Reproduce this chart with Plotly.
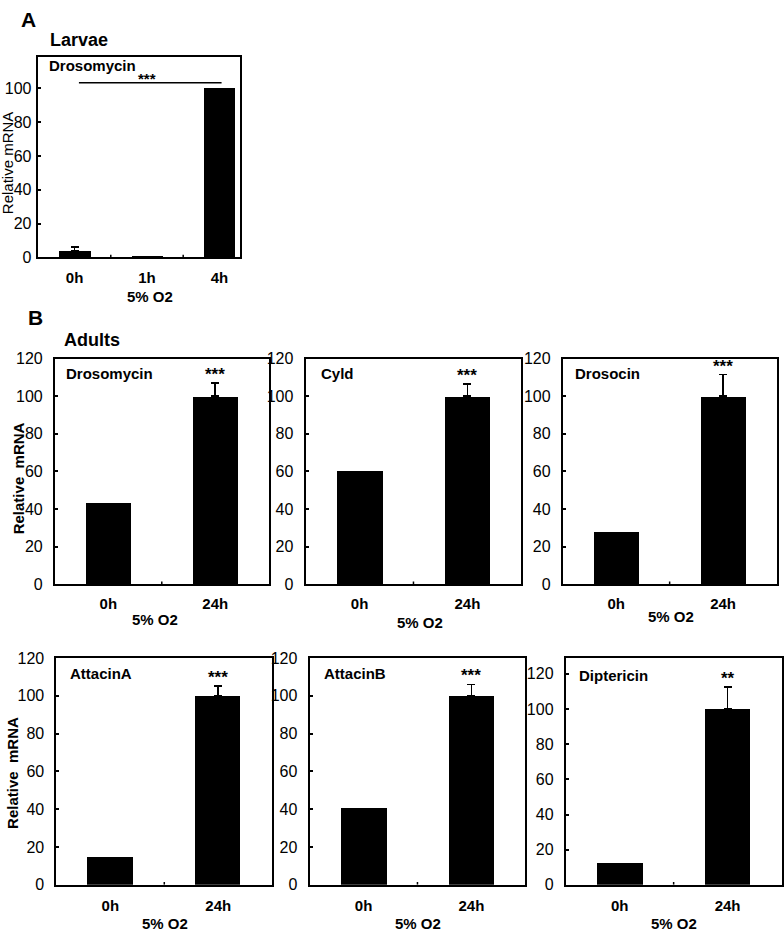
import plotly.graph_objects as go

# ---------------- data ----------------
larvae_categories = ["0h", "1h", "4h"]
larvae_values = [3.9, 0.8, 100]
larvae_errors = [2.3, 0, 0]
larvae_sig = "***"

adult_genes = ["Drosomycin", "Cyld", "Drosocin", "AttacinA", "AttacinB", "Diptericin"]
adult_categories = ["0h", "24h"]
adult_0h = [43.7, 60.5, 28.3, 14.5, 40.8, 12.5]
adult_24h = [100, 100, 100, 100, 100, 100]
adult_24h_err = [7.0, 6.6, 11.5, 5.3, 6.0, 12.5]
adult_sig = ["***", "***", "***", "***", "***", "**"]
adult_ymax = [120, 120, 120, 120, 120, 129]
adult_ticks = [0, 20, 40, 60, 80, 100, 120]
larvae_ticks = [0, 20, 40, 60, 80, 100]

W, H = 784, 940
FONT = "Liberation Sans, Arial, Helvetica, sans-serif"


def px_x(p):
    return p / W


def px_y(p):
    return 1 - p / H


fig = go.Figure()

panelA = (37.7, 240.7, 50, 254)
panelsB = [
    (55, 269, 357, 587), (306, 522, 357, 587), (563.5, 777.5, 357, 587),
    (56.5, 272.5, 662, 893), (310, 526, 662, 893), (566.5, 782.5, 662, 893),
]

annotations = []
shapes = []


def axis_style(domain_x, domain_y, rng_x, rng_y, ticks_y, ticktext_x, tvals_x, anchor_x, anchor_y, ystand, xstand):
    xa = dict(domain=domain_x, range=rng_x, anchor=anchor_y, showgrid=False, zeroline=False,
              showline=True, linecolor="black", linewidth=2, mirror=True,
              tickmode="array", tickvals=tvals_x, ticktext=ticktext_x,
              ticks="", tickfont=dict(family=FONT, size=15, color="black"),
              ticklabelstandoff=xstand, fixedrange=True)
    ya = dict(domain=domain_y, range=rng_y, anchor=anchor_x, showgrid=False, zeroline=False,
              showline=True, linecolor="black", linewidth=2, mirror=True,
              tickmode="array", tickvals=ticks_y, ticks="inside", ticklen=3, tickwidth=1.5,
              tickcolor="black", tickfont=dict(family=FONT, size=16, color="black"),
              ticklabelstandoff=ystand, fixedrange=True)
    return xa, ya


def add_bars(xs, ys, errs, width, xname, yname):
    # bars with an error value get an upper error bar; the others are drawn plain
    with_err = [k for k in range(len(xs)) if errs[k]]
    without = [k for k in range(len(xs)) if not errs[k]]
    if without:
        fig.add_trace(go.Bar(x=[xs[k] for k in without], y=[ys[k] for k in without], width=width,
                             marker=dict(color="black", line=dict(width=0)),
                             xaxis=xname, yaxis=yname, showlegend=False))
    if with_err:
        fig.add_trace(go.Bar(x=[xs[k] for k in with_err], y=[ys[k] for k in with_err], width=width,
                             marker=dict(color="black", line=dict(width=0)),
                             error_y=dict(type="data", symmetric=False,
                                          array=[errs[k] for k in with_err],
                                          arrayminus=[0] * len(with_err), color="black",
                                          thickness=1.5, width=4),
                             xaxis=xname, yaxis=yname, showlegend=False))


# ---------- Panel A ----------
l, r, t, b = panelA
xa, ya = axis_style([px_x(l), px_x(r)], [px_y(b), px_y(t)], [-0.51, 2.29], [0, 118.4],
                    larvae_ticks, ["<b>%s</b>" % c for c in larvae_categories],
                    list(range(len(larvae_categories))), "x", "y", 1, 6)
fig.update_layout(xaxis=xa, yaxis=ya)
add_bars(list(range(len(larvae_categories))), larvae_values, larvae_errors, 0.43, "x", "y")
for k in range(len(larvae_categories) - 1):
    shapes.append(dict(type="line", xref="x", yref="y", x0=k + 0.5, x1=k + 0.5, y0=0, y1=1.6,
                       line=dict(color="black", width=1.5)))
shapes.append(dict(type="line", xref="x", yref="y", x0=0.06, x1=2.03,
                   y0=larvae_values[-1] + 3.3, y1=larvae_values[-1] + 3.3,
                   line=dict(color="black", width=1.5)))
annotations.append(dict(x=1, y=larvae_values[-1] + 3.3, xref="x", yref="y", text="<b>%s</b>" % larvae_sig,
                        showarrow=False, yanchor="bottom", yshift=-6,
                        font=dict(family=FONT, size=15, color="black")))
annotations.append(dict(x=px_x(47), y=px_y(59), xref="paper", yref="paper", text="<b>Drosomycin</b>",
                        showarrow=False, xanchor="left", yanchor="middle",
                        font=dict(family=FONT, size=15, color="black")))
annotations.append(dict(x=px_x(7), y=px_y(157), xref="paper", yref="paper", text="Relative mRNA",
                        textangle=-90, showarrow=False, xanchor="center", yanchor="middle",
                        font=dict(family=FONT, size=15, color="black")))
annotations.append(dict(x=px_x(150), y=px_y(294), xref="paper", yref="paper", text="<b>5% O2</b>",
                        showarrow=False, xanchor="center", yanchor="middle",
                        font=dict(family=FONT, size=15, color="black")))
annotations.append(dict(x=px_x(19), y=px_y(12), xref="paper", yref="paper", text="<b>A</b>",
                        showarrow=False, xanchor="left", yanchor="middle",
                        font=dict(family=FONT, size=21, color="black")))
annotations.append(dict(x=px_x(48), y=px_y(33), xref="paper", yref="paper", text="<b>Larvae</b>",
                        showarrow=False, xanchor="left", yanchor="middle",
                        font=dict(family=FONT, size=18, color="black")))

# ---------- Panel B ----------
label_pos = [(64, 372), (319, 372), (574, 372), (68, 678), (322, 678), (578, 680)]
o2_pos = [(155, 623), (421, 626), (672, 620), (165, 932), (419, 932), (675, 932)]

for i, gene in enumerate(adult_genes):
    n = i + 2
    xname, yname = "x%d" % n, "y%d" % n
    l, r, t, b = panelsB[i]
    xstand = 5 if i < 3 else 6
    xa, ya = axis_style([px_x(l), px_x(r)], [px_y(b), px_y(t)], [-0.5, 1.5], [0, adult_ymax[i]],
                        adult_ticks, ["<b>%s</b>" % c for c in adult_categories],
                        list(range(len(adult_categories))), xname, yname, 7, xstand)
    fig.update_layout(**{"xaxis%d" % n: xa, "yaxis%d" % n: ya})
    add_bars([0, 1], [adult_0h[i], adult_24h[i]], [0, adult_24h_err[i]], 0.42, xname, yname)
    shapes.append(dict(type="line", xref=xname, yref=yname, x0=0.5, x1=0.5, y0=0,
                       y1=adult_ymax[i] * 0.013, line=dict(color="black", width=1.5)))
    annotations.append(dict(x=1, y=adult_24h[i] + adult_24h_err[i], xref=xname, yref=yname,
                            text="<b>%s</b>" % adult_sig[i], showarrow=False, yanchor="bottom", yshift=-3,
                            font=dict(family=FONT, size=17, color="black")))
    lx, ly = label_pos[i]
    annotations.append(dict(x=px_x(lx), y=px_y(ly), xref="paper", yref="paper", text="<b>%s</b>" % gene,
                            showarrow=False, xanchor="left", yanchor="middle",
                            font=dict(family=FONT, size=15, color="black")))
    ox, oy = o2_pos[i]
    annotations.append(dict(x=px_x(ox), y=px_y(oy), xref="paper", yref="paper", text="<b>5% O2</b>",
                            showarrow=False, xanchor="center", yanchor="middle",
                            font=dict(family=FONT, size=15, color="black")))

annotations.append(dict(x=px_x(18), y=px_y(479), xref="paper", yref="paper", text="<b>Relative  mRNA</b>",
                        textangle=-90, showarrow=False, xanchor="center", yanchor="middle",
                        font=dict(family=FONT, size=15, color="black")))
annotations.append(dict(x=px_x(13), y=px_y(779), xref="paper", yref="paper", text="<b>Relative  mRNA</b>",
                        textangle=-90, showarrow=False, xanchor="center", yanchor="middle",
                        font=dict(family=FONT, size=15, color="black")))
annotations.append(dict(x=px_x(26), y=px_y(315), xref="paper", yref="paper", text="<b>B</b>",
                        showarrow=False, xanchor="left", yanchor="middle",
                        font=dict(family=FONT, size=21, color="black")))
annotations.append(dict(x=px_x(62), y=px_y(338), xref="paper", yref="paper", text="<b>Adults</b>",
                        showarrow=False, xanchor="left", yanchor="middle",
                        font=dict(family=FONT, size=18, color="black")))

fig.update_layout(width=W, height=H, margin=dict(l=0, r=0, t=0, b=0),
                  paper_bgcolor="white", plot_bgcolor="white",
                  annotations=annotations, shapes=shapes, bargap=0,
                  font=dict(family=FONT, color="black"))

# remove the default 8px page margin so the figure sits at the window's top-left corner
POST = "document.body.style.margin='0';document.body.style.overflow='hidden';"

fig.write_html("out.html", config={"displayModeBar": False}, post_script=POST)
